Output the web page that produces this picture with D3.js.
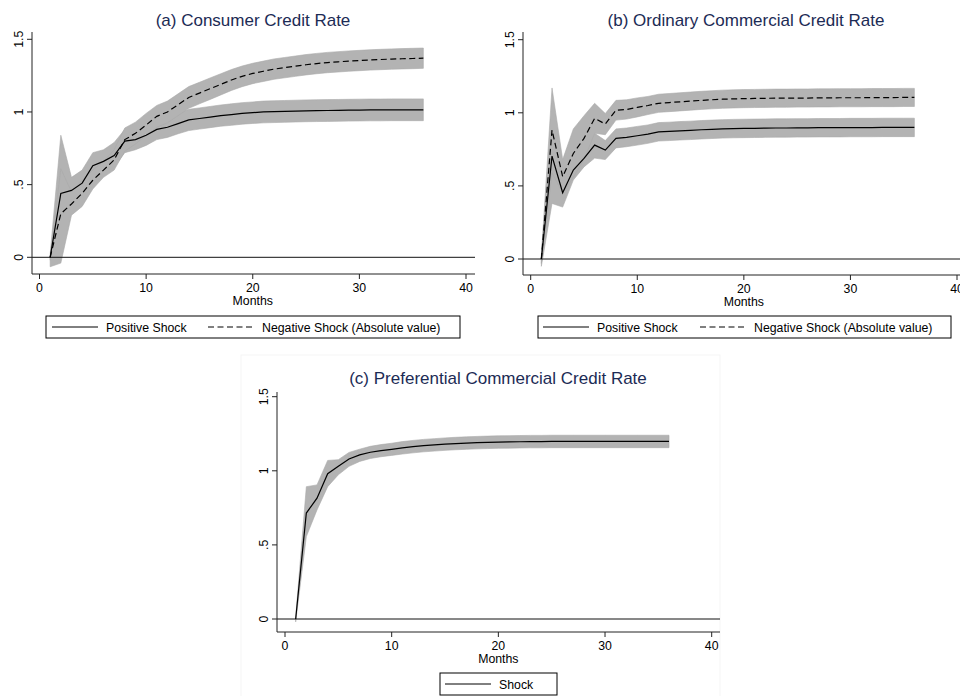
<!DOCTYPE html>
<html>
<head>
<meta charset="utf-8">
<script src="https://cdn.jsdelivr.net/npm/d3@7"></script>
<style>
  body { margin: 0; background: #fff; }
  svg { display: block; font-family: "Liberation Sans", Arial, Helvetica, sans-serif; }
</style>
</head>
<body>
<svg id="chart" width="960" height="696"></svg>
<script>
// months 1..36 after the shock
const months = d3.range(1, 37);
const xTicks = [0, 10, 20, 30, 40];
const yTicks = [0, 0.5, 1, 1.5];
const yTickLabels = ["0", ".5", "1", "1.5"];

// (a) consumer credit rate
const aPos = [0, 0.44, 0.46, 0.51, 0.63, 0.66, 0.70, 0.80, 0.81, 0.84, 0.88, 0.895, 0.92, 0.945, 0.955, 0.965, 0.975, 0.982, 0.99, 0.995, 1.0, 1.002, 1.004, 1.006, 1.008, 1.009, 1.01, 1.011, 1.012, 1.013, 1.014, 1.014, 1.015, 1.015, 1.015, 1.015];
const aPosLo = [-0.02, 0.04, 0.37, 0.42, 0.54, 0.58, 0.62, 0.72, 0.74, 0.77, 0.81, 0.825, 0.85, 0.872, 0.882, 0.892, 0.902, 0.908, 0.916, 0.921, 0.925, 0.927, 0.929, 0.931, 0.933, 0.934, 0.935, 0.936, 0.937, 0.938, 0.939, 0.939, 0.94, 0.94, 0.94, 0.94];
const aPosHi = [0.02, 0.84, 0.55, 0.60, 0.72, 0.74, 0.79, 0.88, 0.89, 0.91, 0.95, 0.965, 0.99, 1.018, 1.028, 1.038, 1.048, 1.056, 1.064, 1.069, 1.075, 1.077, 1.079, 1.081, 1.083, 1.084, 1.085, 1.086, 1.087, 1.088, 1.089, 1.089, 1.09, 1.09, 1.09, 1.09];
const aNeg = [0, 0.30, 0.367, 0.44, 0.53, 0.60, 0.67, 0.81, 0.853, 0.91, 0.97, 1.00, 1.05, 1.10, 1.13, 1.16, 1.19, 1.22, 1.245, 1.265, 1.28, 1.295, 1.305, 1.315, 1.325, 1.333, 1.34, 1.345, 1.35, 1.354, 1.358, 1.361, 1.364, 1.366, 1.368, 1.37];
const aNegLo = [-0.065, -0.04, 0.29, 0.35, 0.47, 0.55, 0.60, 0.73, 0.78, 0.84, 0.895, 0.925, 0.975, 1.025, 1.056, 1.086, 1.117, 1.148, 1.174, 1.195, 1.21, 1.225, 1.235, 1.245, 1.255, 1.263, 1.27, 1.275, 1.28, 1.284, 1.288, 1.291, 1.294, 1.296, 1.298, 1.30];
const aNegHi = [0.0, 0.61, 0.45, 0.53, 0.60, 0.66, 0.74, 0.89, 0.93, 0.99, 1.045, 1.075, 1.125, 1.175, 1.204, 1.234, 1.263, 1.292, 1.316, 1.335, 1.35, 1.365, 1.375, 1.385, 1.395, 1.403, 1.41, 1.415, 1.42, 1.424, 1.428, 1.431, 1.434, 1.436, 1.438, 1.44];

// (b) ordinary commercial credit rate
const bPos = [0, 0.704, 0.453, 0.608, 0.688, 0.779, 0.745, 0.825, 0.832, 0.843, 0.854, 0.87, 0.873, 0.877, 0.88, 0.884, 0.887, 0.89, 0.892, 0.893, 0.894, 0.895, 0.896, 0.896, 0.897, 0.897, 0.898, 0.898, 0.898, 0.899, 0.899, 0.899, 0.9, 0.9, 0.9, 0.9];
const bPosLo = [-0.05, 0.38, 0.355, 0.54, 0.63, 0.69, 0.68, 0.76, 0.768, 0.779, 0.791, 0.807, 0.81, 0.814, 0.817, 0.821, 0.824, 0.827, 0.829, 0.83, 0.831, 0.832, 0.833, 0.833, 0.834, 0.834, 0.835, 0.835, 0.835, 0.836, 0.836, 0.836, 0.837, 0.837, 0.837, 0.837];
const bPosHi = [0.02, 1.02, 0.55, 0.68, 0.76, 0.86, 0.81, 0.89, 0.896, 0.907, 0.917, 0.933, 0.936, 0.94, 0.943, 0.947, 0.95, 0.953, 0.955, 0.956, 0.957, 0.958, 0.959, 0.959, 0.96, 0.96, 0.961, 0.961, 0.961, 0.962, 0.962, 0.962, 0.963, 0.963, 0.963, 0.963];
const bNeg = [0, 0.882, 0.563, 0.722, 0.825, 0.962, 0.923, 1.018, 1.023, 1.037, 1.05, 1.065, 1.07, 1.075, 1.08, 1.085, 1.089, 1.093, 1.095, 1.097, 1.098, 1.099, 1.1, 1.1, 1.101, 1.101, 1.102, 1.102, 1.103, 1.103, 1.103, 1.104, 1.104, 1.104, 1.105, 1.105];
const bNegLo = [-0.03, 0.59, 0.45, 0.56, 0.68, 0.86, 0.85, 0.95, 0.957, 0.972, 0.988, 1.003, 1.008, 1.013, 1.018, 1.023, 1.027, 1.031, 1.033, 1.035, 1.036, 1.037, 1.038, 1.038, 1.039, 1.039, 1.04, 1.04, 1.041, 1.041, 1.041, 1.042, 1.042, 1.042, 1.043, 1.043];
const bNegHi = [0.02, 1.17, 0.68, 0.89, 0.98, 1.065, 0.995, 1.085, 1.089, 1.102, 1.112, 1.127, 1.132, 1.137, 1.142, 1.147, 1.151, 1.155, 1.157, 1.159, 1.16, 1.161, 1.162, 1.162, 1.163, 1.163, 1.164, 1.164, 1.165, 1.165, 1.165, 1.166, 1.166, 1.166, 1.167, 1.167];

// (c) preferential commercial credit rate
const cShock = [0, 0.715, 0.815, 0.98, 1.03, 1.08, 1.107, 1.125, 1.136, 1.145, 1.155, 1.163, 1.17, 1.175, 1.18, 1.184, 1.187, 1.19, 1.192, 1.194, 1.195, 1.196, 1.197, 1.197, 1.198, 1.198, 1.198, 1.198, 1.198, 1.198, 1.198, 1.198, 1.198, 1.198, 1.198, 1.198];
const cLo = [-0.02, 0.556, 0.736, 0.893, 0.973, 1.03, 1.063, 1.083, 1.095, 1.104, 1.113, 1.121, 1.128, 1.133, 1.138, 1.142, 1.145, 1.148, 1.15, 1.152, 1.153, 1.154, 1.155, 1.155, 1.156, 1.156, 1.156, 1.156, 1.156, 1.156, 1.156, 1.156, 1.156, 1.156, 1.156, 1.156];
const cHi = [0.01, 0.893, 0.905, 1.07, 1.075, 1.124, 1.146, 1.165, 1.177, 1.186, 1.197, 1.205, 1.212, 1.217, 1.222, 1.226, 1.229, 1.232, 1.234, 1.236, 1.237, 1.238, 1.239, 1.239, 1.24, 1.24, 1.24, 1.24, 1.24, 1.24, 1.24, 1.24, 1.24, 1.24, 1.24, 1.24];

const titleColor = "#1c2b55";
const bandFill = "#b3b3b3";
const axisColor = "#222";
const dash = "6,3.5";

const svg = d3.select("#chart");

// faint frame around the lower graph
svg.append("rect")
  .attr("x", 241).attr("y", 355)
  .attr("width", 479).attr("height", 345)
  .attr("fill", "none")
  .attr("stroke", "#f5f5f5");

const drawPanel = (cfg) => {
  const x = d3.scaleLinear().domain([0, 40]).range([cfg.x0, cfg.x40]);
  const y = d3.scaleLinear().domain([0, 1.5]).range([cfg.y0, cfg.y15]);
  const g = svg.append("g");

  // bands first, lines on top
  cfg.series.forEach((s) => {
    const area = d3.area()
      .x((d, i) => x(months[i]))
      .y0((d, i) => y(s.lo[i]))
      .y1((d, i) => y(s.hi[i]));
    g.append("path")
      .attr("d", area(s.lo))
      .attr("fill", bandFill)
      .attr("stroke", "#a9a9a9")
      .attr("stroke-width", 0.6);
  });

  // zero line
  g.append("line")
    .attr("x1", cfg.left).attr("x2", cfg.right)
    .attr("y1", y(0)).attr("y2", y(0))
    .attr("stroke", "#111")
    .attr("stroke-width", 1);

  cfg.series.forEach((s) => {
    const line = d3.line()
      .x((d, i) => x(months[i]))
      .y((d) => y(d));
    g.append("path")
      .attr("d", line(s.values))
      .attr("fill", "none")
      .attr("stroke", "#000")
      .attr("stroke-width", 1.2)
      .attr("stroke-dasharray", s.dashed ? dash : null);
  });

  // axes
  g.append("line")
    .attr("x1", cfg.left).attr("x2", cfg.right)
    .attr("y1", cfg.bottom).attr("y2", cfg.bottom)
    .attr("stroke", axisColor);
  g.append("line")
    .attr("x1", cfg.left).attr("x2", cfg.left)
    .attr("y1", cfg.bottom).attr("y2", cfg.top)
    .attr("stroke", axisColor);

  xTicks.forEach((t) => {
    g.append("line")
      .attr("x1", x(t)).attr("x2", x(t))
      .attr("y1", cfg.bottom).attr("y2", cfg.bottom + 5)
      .attr("stroke", axisColor);
    g.append("text")
      .attr("x", x(t)).attr("y", cfg.bottom + 18)
      .attr("text-anchor", "middle")
      .attr("font-size", "12.3px")
      .attr("fill", "#000")
      .text(t);
  });

  yTicks.forEach((t, i) => {
    g.append("line")
      .attr("x1", cfg.left - 5).attr("x2", cfg.left)
      .attr("y1", y(t)).attr("y2", y(t))
      .attr("stroke", axisColor);
    g.append("text")
      .attr("transform", `translate(${cfg.left - 13},${y(t)}) rotate(-90)`)
      .attr("dy", "0.35em")
      .attr("text-anchor", "middle")
      .attr("font-size", "12.3px")
      .attr("fill", "#000")
      .text(yTickLabels[i]);
  });

  g.append("text")
    .attr("x", x(20)).attr("y", cfg.bottom + 31)
    .attr("text-anchor", "middle")
    .attr("font-size", "12.3px")
    .attr("fill", "#000")
    .text("Months");

  g.append("text")
    .attr("x", cfg.titleX).attr("y", cfg.titleY)
    .attr("text-anchor", "middle")
    .attr("font-size", "17px")
    .attr("fill", titleColor)
    .text(cfg.title);

  // legend
  const lg = cfg.legend;
  g.append("rect")
    .attr("x", lg.x).attr("y", lg.y)
    .attr("width", lg.w).attr("height", 22)
    .attr("fill", "#fff")
    .attr("stroke", "#000");
  lg.items.forEach((it) => {
    g.append("line")
      .attr("x1", it.x).attr("x2", it.x + 46)
      .attr("y1", lg.y + 11).attr("y2", lg.y + 11)
      .attr("stroke", "#000")
      .attr("stroke-width", 1)
      .attr("stroke-dasharray", it.dashed ? dash : null);
    g.append("text")
      .attr("x", it.x + 54).attr("y", lg.y + 15.5)
      .attr("font-size", "12.3px")
      .attr("fill", "#000")
      .text(it.label);
  });
};

drawPanel({
  title: "(a) Consumer Credit Rate", titleX: 253, titleY: 26,
  x0: 39.5, x40: 466, y0: 257.3, y15: 39.3,
  left: 32, right: 475, top: 32, bottom: 274,
  series: [
    { values: aPos, lo: aPosLo, hi: aPosHi, dashed: false },
    { values: aNeg, lo: aNegLo, hi: aNegHi, dashed: true }
  ],
  legend: { x: 46, y: 316, w: 414, items: [
    { x: 52, label: "Positive Shock", dashed: false },
    { x: 208, label: "Negative Shock (Absolute value)", dashed: true }
  ] }
});

drawPanel({
  title: "(b) Ordinary Commercial Credit Rate", titleX: 746, titleY: 26,
  x0: 530.7, x40: 957, y0: 259, y15: 39.7,
  left: 523, right: 966, top: 32, bottom: 275,
  series: [
    { values: bPos, lo: bPosLo, hi: bPosHi, dashed: false },
    { values: bNeg, lo: bNegLo, hi: bNegHi, dashed: true }
  ],
  legend: { x: 538, y: 316, w: 413, items: [
    { x: 543, label: "Positive Shock", dashed: false },
    { x: 700, label: "Negative Shock (Absolute value)", dashed: true }
  ] }
});

drawPanel({
  title: "(c) Preferential Commercial Credit Rate", titleX: 498, titleY: 384,
  x0: 285, x40: 711.7, y0: 619, y15: 396.7,
  left: 277, right: 720, top: 392, bottom: 632,
  series: [
    { values: cShock, lo: cLo, hi: cHi, dashed: false }
  ],
  legend: { x: 440, y: 673, w: 117, items: [
    { x: 445, label: "Shock", dashed: false }
  ] }
});
</script>
</body>
</html>
